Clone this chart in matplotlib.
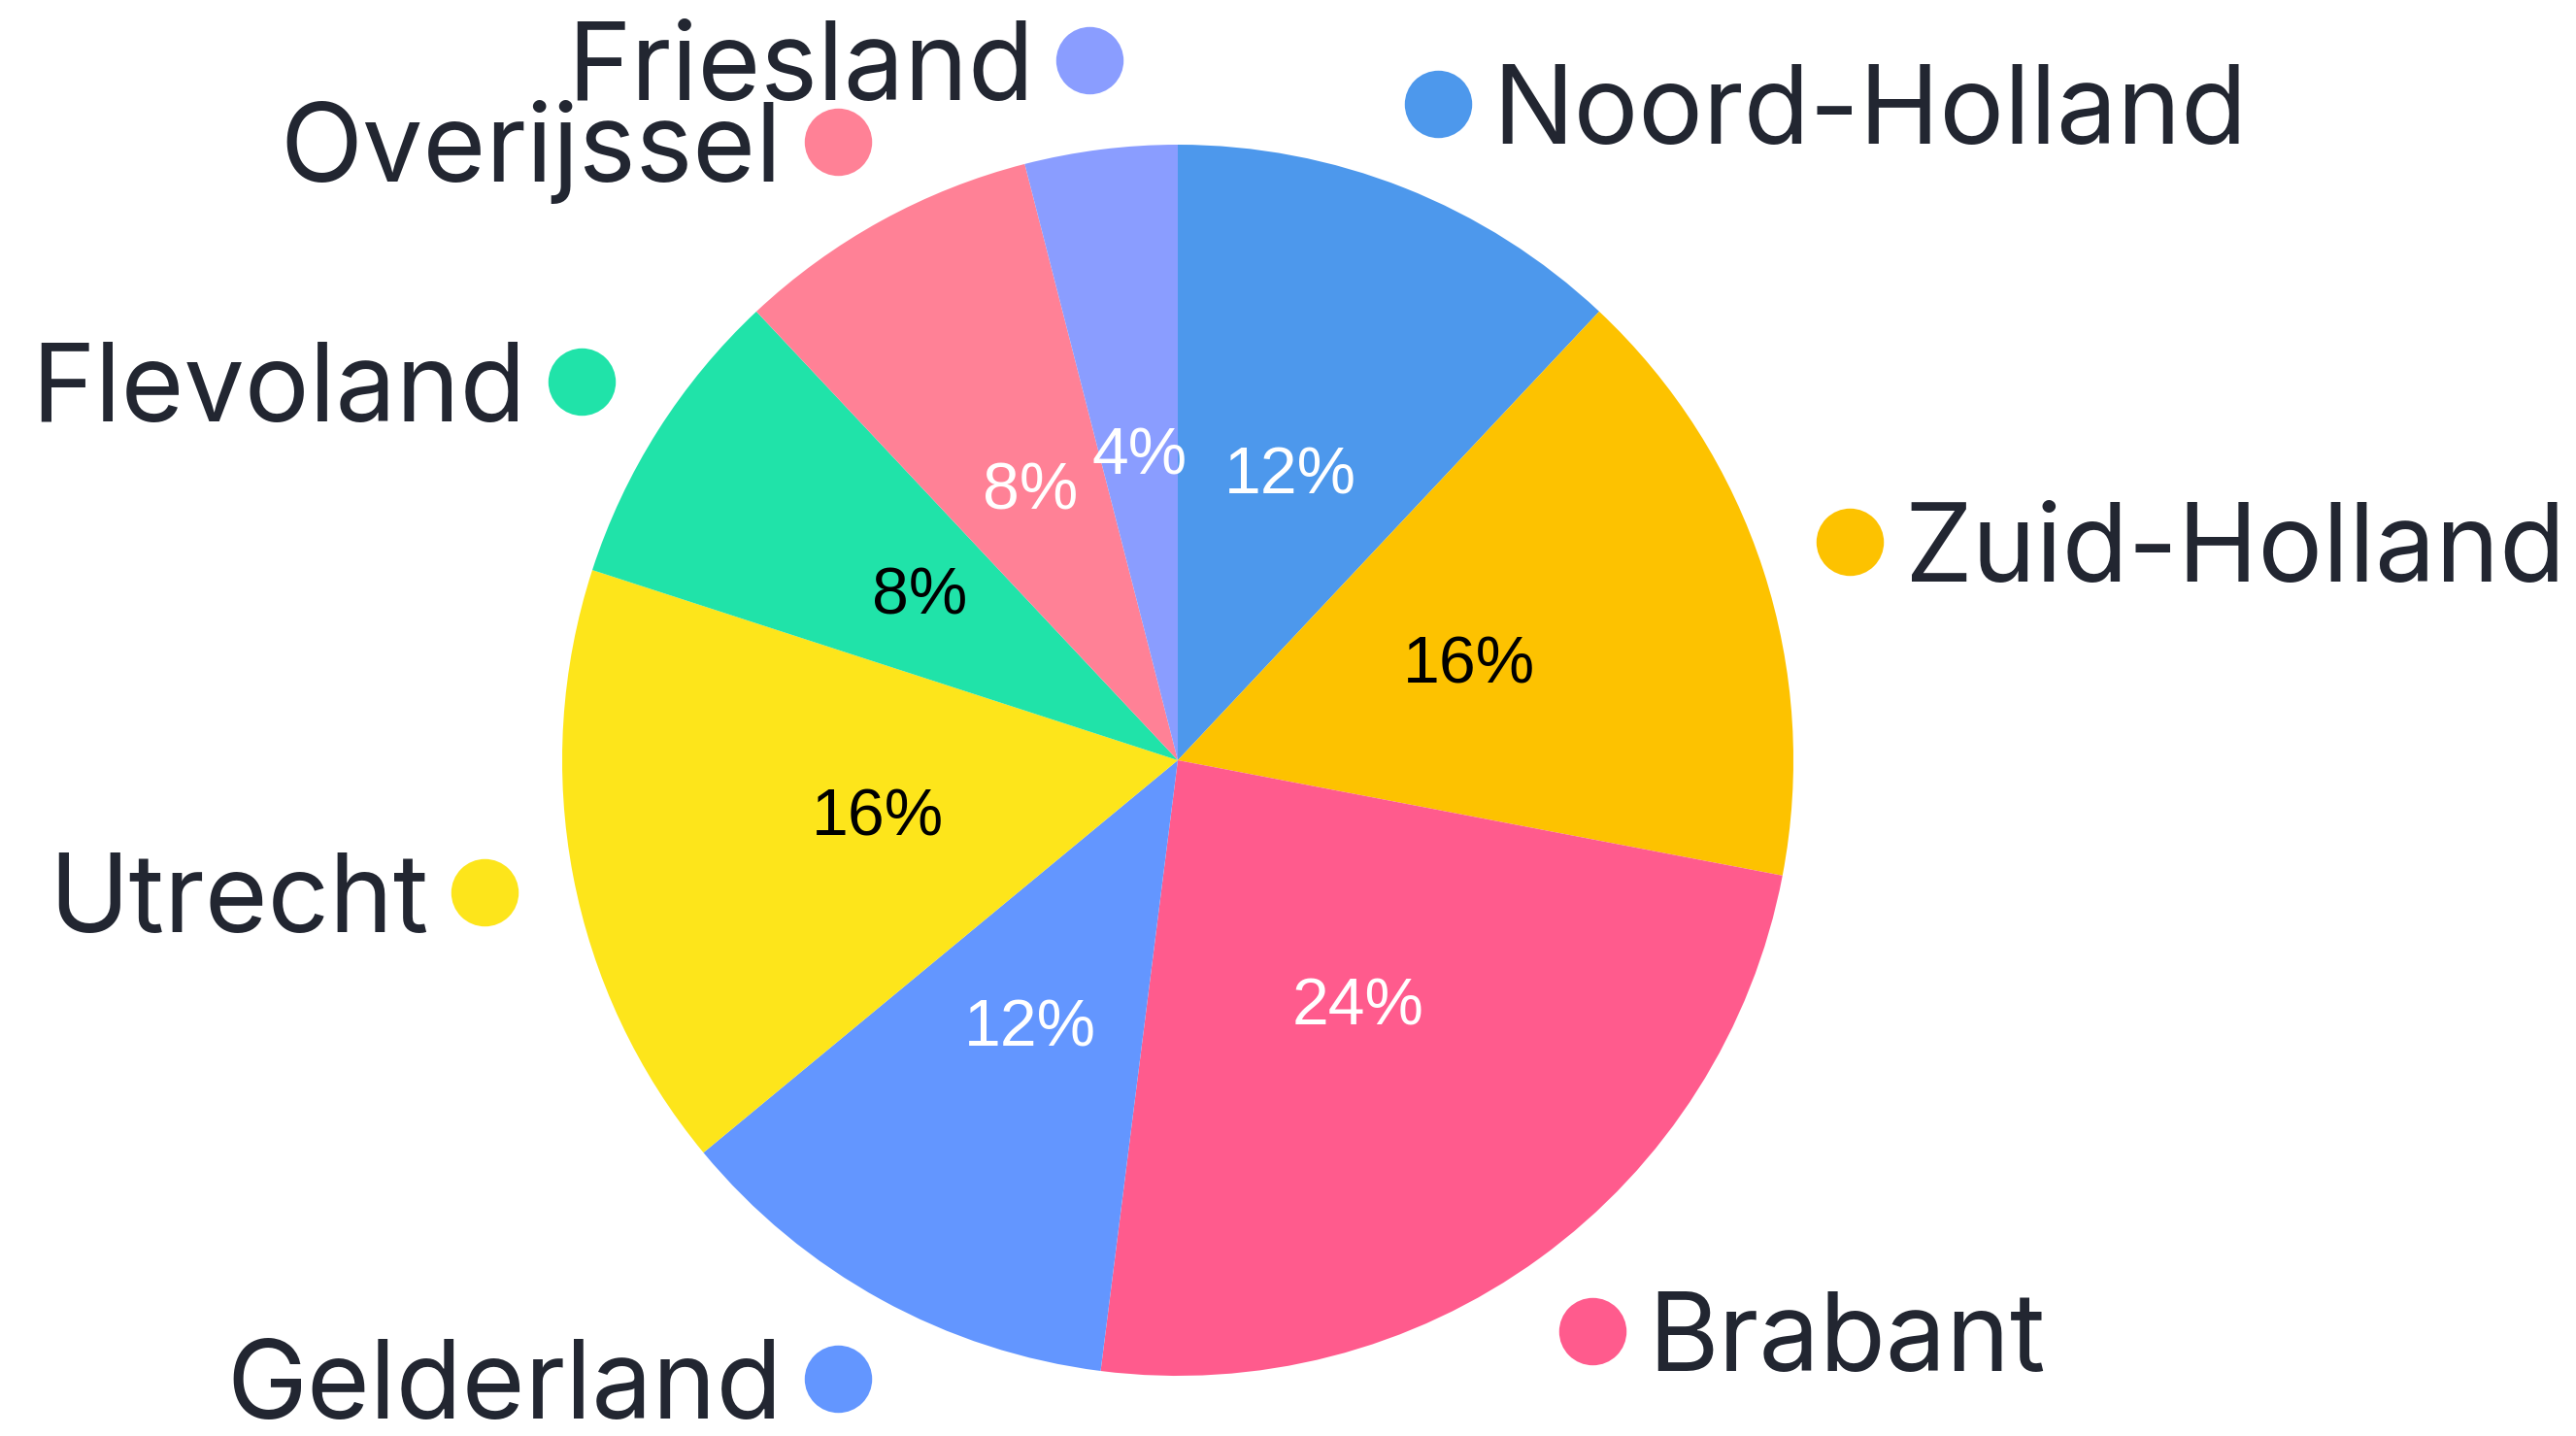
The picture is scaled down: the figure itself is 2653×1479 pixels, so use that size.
import matplotlib
matplotlib.use("Agg")
import matplotlib.pyplot as plt
import numpy as np

provinces = ["Noord-Holland", "Zuid-Holland", "Brabant", "Gelderland",
             "Utrecht", "Flevoland", "Overijssel", "Friesland"]
shares = [12, 16, 24, 12, 16, 8, 8, 4]
colors = ["#4D98EC", "#FDC200", "#FF5B8D", "#6396FF",
          "#FDE51B", "#20E3A9", "#FF8196", "#8A9DFF"]
pct_colors = ["white", "black", "white", "white", "black", "black", "white", "white"]

W, H = 2653, 1479
fig = plt.figure(figsize=(W / 100, H / 100), dpi=100)
ax = fig.add_axes([0, 0, 1, 1])
ax.set_xlim(0, W)
ax.set_ylim(0, H)
ax.set_aspect("equal")
ax.axis("off")

cx, cy, R = 1213, H - 783, 634
wedges, _ = ax.pie(shares, colors=colors, startangle=90, counterclock=False,
                   center=(cx, cy), radius=R, frame=True,
                   wedgeprops=dict(linewidth=0))
ax.set_xlim(0, W)
ax.set_ylim(0, H)
ax.axis("off")

text_col = "#222631"
for w, name, val, pc in zip(wedges, provinces, shares, pct_colors):
    mid = np.deg2rad((w.theta1 + w.theta2) / 2)
    ux, uy = np.cos(mid), np.sin(mid)
    # percentage
    ax.text(cx + 0.497 * R * ux, cy + 0.497 * R * uy, f"{val}%",
            ha="center", va="center", fontsize=49, color=pc,
            family="Liberation Sans")
    # dot + name
    dx, dy = cx + 1.147 * R * ux, cy + 1.147 * R * uy
    ax.plot(dx, dy, "o", ms=50, color=w.get_facecolor(), mec="none")
    kw = dict(va="baseline", fontsize=80, color=text_col, family="Inter")
    if ux >= 0:
        ax.text(dx + 57, dy - 41, name, ha="left", **kw)
    else:
        ax.text(dx - 57, dy - 41, name, ha="right", **kw)

fig.savefig("out.png", dpi=100, facecolor="white")
